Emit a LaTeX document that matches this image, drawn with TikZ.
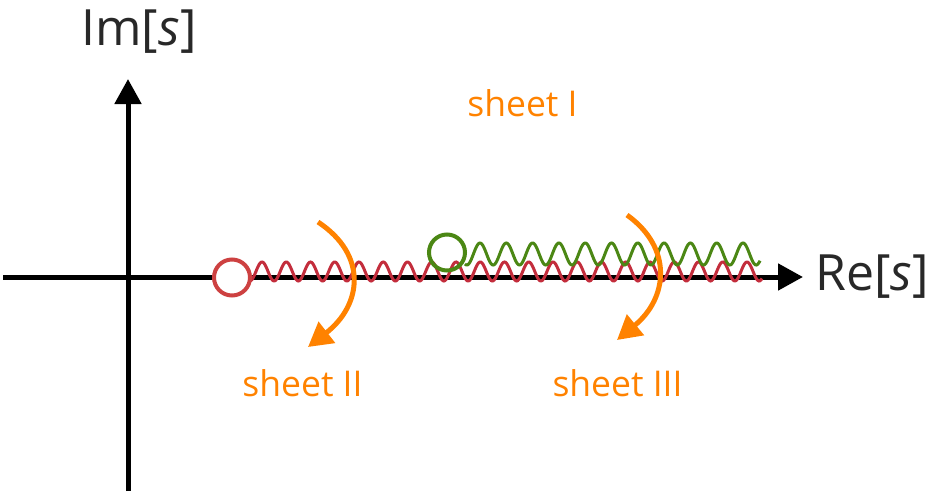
\documentclass[tikz,border=0pt]{standalone}
\usepackage{fontspec}
\setmainfont{Open Sans}
\usetikzlibrary{arrows.meta}
\definecolor{axisgray}{RGB}{40,40,40}
\definecolor{sheetorange}{RGB}{255,130,0}
\definecolor{cutred}{RGB}{195,45,60}
\definecolor{polered}{RGB}{205,65,65}
\definecolor{cutgreen}{RGB}{75,135,20}
\tikzset{
  axis/.style={line width=5pt, black, -{Triangle[length=25pt,width=26pt]}},
  axislabel/.style={text=axisgray, font=\fontsize{50}{54}\selectfont, anchor=base, inner sep=0pt},
  sheetlabel/.style={text=sheetorange, font=\fontsize{35.5}{40}\selectfont, anchor=base, inner sep=0pt},
  sheetarrow/.style={line width=5pt, sheetorange, -{Triangle[length=24pt,width=26pt]}},
  branchpoint/.style={circle, draw, line width=4pt, minimum size=36pt, inner sep=0pt},
  redcut/.style={line width=3pt, cutred},
  greencut/.style={line width=3pt, cutgreen},
}
\begin{document}
\begin{tikzpicture}[x=1pt, y=-1pt]
  \useasboundingbox (0,0) rectangle (930,491);

  % axes
  \coordinate (xstart) at (3,277);
  \coordinate (xend) at (803,277);
  \coordinate (ystart) at (128,491);
  \coordinate (yend) at (128,79);
  \draw[axis] (xstart) -- (xend);
  \draw[axis] (ystart) -- (yend);
  \node[axislabel] (imlabel) at (139,45) {Im[\textit{s}]};
  \node[axislabel] (relabel) at (872,290) {Re[\textit{s}]};

  % branch cuts along the real axis
  \draw[redcut] plot[domain=250:762, samples=500, smooth]
    (\x, {271.5 - 9.5*cos(14.845*(\x-262))});
  \draw[greencut] plot[domain=465:760, samples=400, smooth]
    (\x, {254 - 11*cos(13.688*(\x-480))});

  % thresholds
  \node[branchpoint, polered, fill=white] (thr1) at (232,277.5) {};
  \node[branchpoint, cutgreen] (thr2) at (447,252.5) {};

  % Riemann sheet labels
  \node[sheetlabel] (sheetI) at (522.5,116) {sheet I};
  \node[sheetlabel] (sheetII) at (302.5,396) {sheet II};
  \node[sheetlabel] (sheetIII) at (617.5,396) {sheet III};

  % continuation through the cuts
  \coordinate (a1s) at (318,222);
  \coordinate (a1e) at (308,347);
  \coordinate (a2s) at (627,215);
  \coordinate (a2e) at (617,340);
  \draw[sheetarrow] (a1s) .. controls (368,255) and (362,305) .. (a1e);
  \draw[sheetarrow] (a2s) .. controls (673,248) and (668,298) .. (a2e);
\end{tikzpicture}
\end{document}
